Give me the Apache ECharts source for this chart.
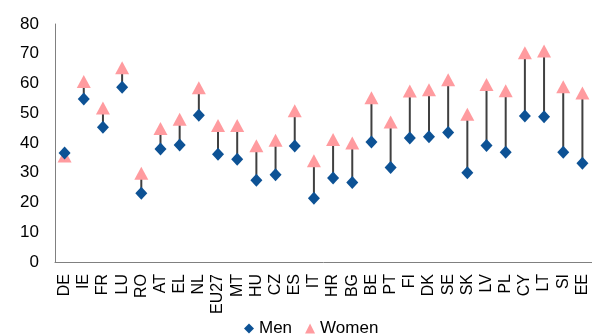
<!DOCTYPE html>
<html><head><meta charset="utf-8">
<script src="https://cdn.jsdelivr.net/npm/echarts@6/dist/echarts.min.js"></script>
<style>html,body{margin:0;padding:0;background:#fff}#c{width:592px;height:334px}</style>
</head><body><div id="c"></div>
<script>
var categories = ["DE","IE","FR","LU","RO","AT","EL","NL","EU27","MT","HU","CZ","ES","IT","HR","BG","BE","PT","FI","DK","SE","SK","LV","PL","CY","LT","SI","EE"];
var men   = [36.6,54.8,45.3,58.7,23.1,38.0,39.3,49.3,36.2,34.5,27.5,29.3,39.0,21.4,28.2,26.7,40.3,31.8,41.7,42.1,43.5,30.0,39.2,36.9,49.1,48.8,36.9,33.2];
var women = [35.6,60.7,51.8,65.3,29.8,44.9,48.0,58.6,45.9,45.9,39.1,40.9,50.8,34.0,41.2,40.0,55.2,47.1,57.5,57.9,61.3,49.7,59.7,57.6,70.3,70.9,58.9,56.8];
var yTicks = [0,10,20,30,40,50,60,70,80];

var chart = echarts.init(document.getElementById('c'), null, {renderer:'canvas'});
var font = 'Liberation Sans, Arial, sans-serif';
chart.setOption({
  animation:false,
  textStyle:{fontFamily:font},
  grid:{left:55, top:24, width:543, height:238, containLabel:false},
  legend:{
    top:315, left:239, itemGap:13, itemWidth:10, itemHeight:10,
    textStyle:{fontSize:17, color:'#000', fontFamily:font},
    data:[{name:'Men', icon:'diamond'},{name:'Women', icon:'triangle'}]
  },
  xAxis:{
    type:'category', data:categories, boundaryGap:true,
    axisLine:{lineStyle:{color:'#808080', width:1}},
    axisTick:{show:false},
    axisLabel:{rotate:90, interval:0, fontSize:16, color:'#000', margin:12, fontFamily:font}
  },
  yAxis:{
    type:'value', min:yTicks[0], max:yTicks[yTicks.length-1], interval:10,
    splitLine:{show:false},
    axisLine:{show:true, lineStyle:{color:'#808080', width:1}},
    axisTick:{show:false},
    axisLabel:{fontSize:17, color:'#000', margin:16, fontFamily:font}
  },
  series:[
    {
      type:'custom', name:'link', silent:true, z:1,
      data: categories.map(function(c,i){return [i, men[i], women[i]];}),
      renderItem:function(params, api){
        var p1 = api.coord([api.value(0), api.value(1)]);
        var p2 = api.coord([api.value(0), api.value(2)]);
        return {type:'line', shape:{x1:p1[0], y1:p1[1], x2:p2[0], y2:p2[1]},
                style:{stroke:'#404040', lineWidth:2}};
      },
      encode:{x:0, y:[1,2]}
    },
    {
      type:'scatter', name:'Women', data:women, symbol:'triangle', symbolSize:[14,13], z:3,
      itemStyle:{color:'#FF9B9F', opacity:1}
    },
    {
      type:'scatter', name:'Men', data:men, symbol:'diamond', symbolSize:[12,13], z:4,
      itemStyle:{color:'#0D5295', opacity:1}
    }
  ]
});
</script>
</body></html>
